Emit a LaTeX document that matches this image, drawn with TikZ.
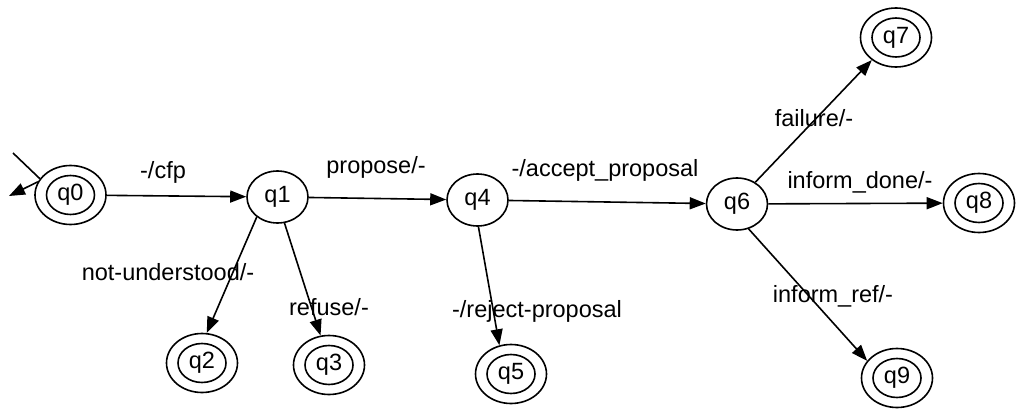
\documentclass[tikz,border=0pt]{standalone}
\usepackage{fontspec}
\setmainfont{Liberation Sans}
\usetikzlibrary{shapes.geometric,arrows.meta}
\begin{document}
\begin{tikzpicture}[x=1pt,y=-1pt,
  every node/.style={font=\fontsize{23.5}{27}\selectfont},
  state/.style={ellipse,draw,line width=1.6pt,minimum width=61pt,minimum height=52pt,inner sep=0pt},
  accept/.style={ellipse,draw,line width=1.6pt,minimum width=71pt,minimum height=59pt,inner sep=0pt,
     path picture={\draw[line width=1.6pt] (path picture bounding box.center) ellipse [x radius=24pt,y radius=19.5pt];}},
  arr/.style={line width=1.6pt,-{Triangle[length=16pt,width=12pt]}},
  lbl/.style={inner sep=0pt}
]
\useasboundingbox (0,0) rectangle (1019,409);

\node[accept] (q0) at (70.5,195) {q0};
\node[state]  (q1) at (277.5,197) {q1};
\node[state]  (q4) at (477.5,200) {q4};
\node[state]  (q6) at (737,204) {q6};
\node[accept] (q7) at (896,37.5) {q7};
\node[accept] (q8) at (979,203) {q8};
\node[accept] (q2) at (202,363) {q2};
\node[accept] (q3) at (329,365) {q3};
\node[accept] (q5) at (511,374) {q5};
\node[accept] (q9) at (897,378) {q9};

\coordinate (ini) at (13,153);
\coordinate (tip) at (9,196);
\draw[line width=1.6pt] (ini) -- (q0.152);
\draw[arr] (q0.158) -- (tip);

\draw[arr] (q0) -- (q1);
\draw[arr] (q1) -- (q4);
\draw[arr] (q4) -- (q6);
\draw[arr] (q1.224) -- (q2.81);
\draw[arr] (q1.285) -- (q3.106);
\draw[arr] (q4.272) -- (q5.112);
\draw[arr] (q6.50) -- (q7.223);
\draw[arr] (q6) -- (q8);
\draw[arr] (q6.295) -- (q9.150);

\node[lbl] (l01) at (163,172) {-/cfp};
\node[lbl] (l14) at (376,167) {propose/-};
\node[lbl] (l46) at (605,170) {-/accept\_proposal};
\node[lbl] (l12) at (168,272) {not-understood/-};
\node[lbl] (l13) at (329,307) {refuse/-};
\node[lbl] (l45) at (537,311) {-/reject-proposal};
\node[lbl] (l67) at (814,118) {failure/-};
\node[lbl] (l68) at (860,182) {inform\_done/-};
\node[lbl] (l69) at (833,296) {inform\_ref/-};
\end{tikzpicture}
\end{document}
